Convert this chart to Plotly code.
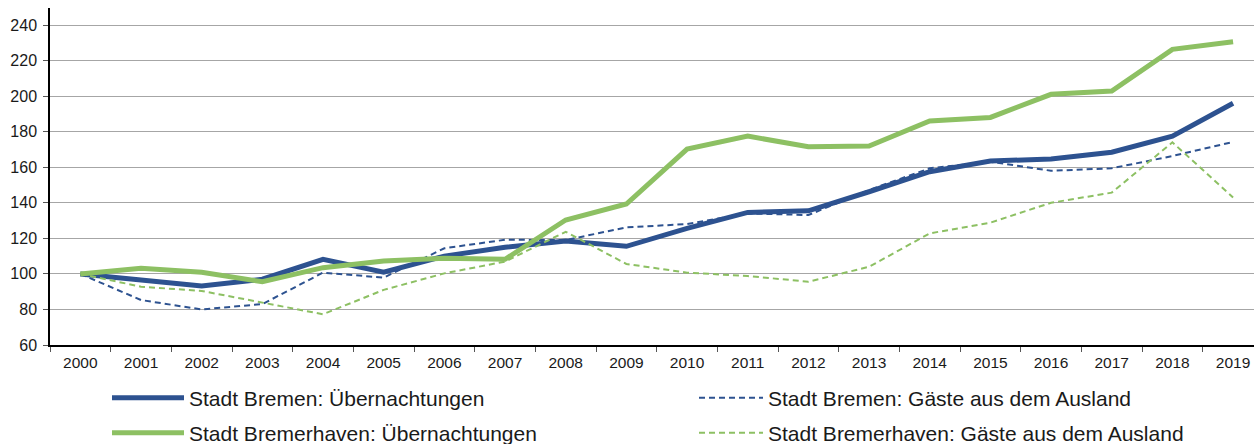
import plotly.graph_objects as go

years = [str(y) for y in range(2000, 2020)]

bremen_uebernachtungen = [100, 96.5, 93.2, 97, 108.2, 101, 110, 115, 118.5, 115.5,
                          125.6, 134.6, 135.5, 146.2, 157.5, 163.5, 164.6, 168.4, 177.5, 196]
bremen_gaeste = [100, 85.3, 80, 83, 100.7, 97.9, 114.4, 119.2, 119, 126.2,
                 128, 134, 133.1, 147.2, 159.4, 163.1, 158, 159.4, 166.3, 174.2]
bremerhaven_uebernachtungen = [100, 103.1, 100.9, 95.6, 103.5, 107.2, 108.8, 108.2, 130.3, 139.3,
                               170.2, 177.5, 171.5, 171.9, 186, 188, 201, 202.9, 226.3, 230.6]
bremerhaven_gaeste = [100, 92.8, 90.4, 84, 77.3, 91, 100.3, 106.9, 123.7, 105.6,
                      100.7, 98.8, 95.6, 104, 122.8, 128.8, 140, 145.7, 174, 143]

names = ["Stadt Bremen: Übernachtungen", "Stadt Bremen: Gäste aus dem Ausland",
         "Stadt Bremerhaven: Übernachtungen", "Stadt Bremerhaven: Gäste aus dem Ausland"]

BLUE = "#2D5290"
GREEN = "#8DC063"
FONT = "Liberation Sans, Arial, sans-serif"
TXT = "#1a1a1a"

FW, FH = 1254, 444
# plot area geometry in figure pixels
L, T, B = 50, 8, 345
W = FW - L
H = B - T


def px_x(p):
    return (p - L) / W


def px_y(p):
    return (B - p) / H


fig = go.Figure()
fig.add_trace(go.Scatter(x=years, y=bremen_uebernachtungen, name=names[0], mode="lines",
                         line=dict(color=BLUE, width=5), legend="legend"))
fig.add_trace(go.Scatter(x=years, y=bremen_gaeste, name=names[1], mode="lines",
                         line=dict(color=BLUE, width=2, dash="6px,4px"), legend="legend2"))
fig.add_trace(go.Scatter(x=years, y=bremerhaven_uebernachtungen, name=names[2], mode="lines",
                         line=dict(color=GREEN, width=5), legend="legend3"))
fig.add_trace(go.Scatter(x=years, y=bremerhaven_gaeste, name=names[3], mode="lines",
                         line=dict(color=GREEN, width=2, dash="6px,4px"), legend="legend4"))


def leg(xp, yp, iw):
    return dict(orientation="v", x=px_x(xp), y=px_y(yp), xanchor="left", yanchor="middle",
                font=dict(family=FONT, size=21, color=TXT), itemwidth=iw,
                bgcolor="rgba(0,0,0,0)", borderwidth=0)


fig.update_layout(
    width=FW, height=FH,
    margin=dict(l=L, r=0, t=T, b=FH - B, autoexpand=False),
    paper_bgcolor="white", plot_bgcolor="white",
    font=dict(family=FONT, size=15, color=TXT),
    showlegend=True,
    legend=leg(107, 398, 72),
    legend2=leg(694, 398, 64),
    legend3=leg(107, 433, 72),
    legend4=leg(694, 433, 64),
    xaxis=dict(type="category", range=[-0.5, 19.345], tickson="boundaries",
               ticks="outside", ticklen=5, tickcolor="#555", showline=True,
               linecolor="#000", linewidth=2, showgrid=False,
               tickfont=dict(size=15.5), ticklabelstandoff=2),
    yaxis=dict(range=[60, 60 + 180 * H / 320], dtick=20, tick0=60, ticks="outside", ticklen=5,
               tickcolor="#555", showline=True, linecolor="#000", linewidth=1.5,
               showgrid=True, gridcolor="#A6A6A6", gridwidth=1, zeroline=False,
               tickfont=dict(size=16), ticklabelstandoff=3),
)

fig.write_html("out.html", config={"displayModeBar": False},
               post_script="document.body.style.margin='0';document.body.style.overflow='hidden';")
